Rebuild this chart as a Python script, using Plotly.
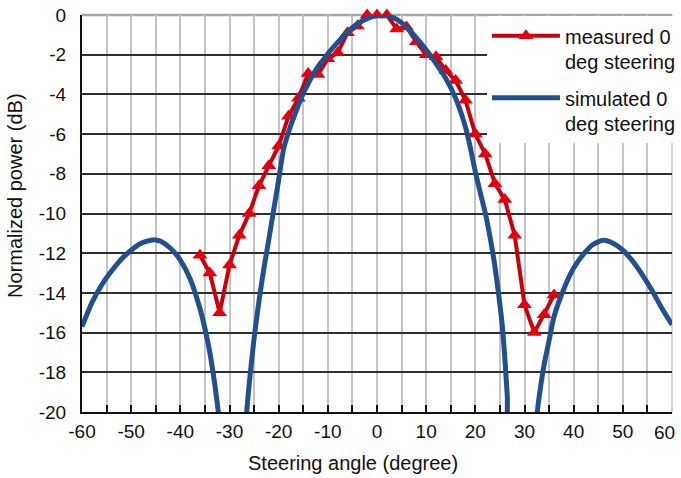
import plotly.graph_objects as go

# Simulated array pattern
sim_angle = [-60, -58, -56, -54, -52, -50, -48, -46, -45, -44, -42, -40, -38, -36, -35, -34, -33, -32, -31.5,
             -27, -26.5, -26, -25, -24, -23, -22, -21, -20, -19, -18, -17, -16, -15, -14, -13, -12, -11, -10,
             -8, -6, -4, -2, 0, 1, 2, 4, 6, 8, 10, 12, 14, 16, 18, 19, 20, 21, 22, 23, 24, 25, 25.5, 26, 26.5, 27,
             32.2, 32.6, 33, 34, 35, 36, 38, 40, 42, 44, 46, 48, 50, 52, 54, 56, 58, 60]
sim_db = [-15.7, -14.5, -13.6, -12.9, -12.3, -11.85, -11.5, -11.35, -11.33, -11.4, -11.75, -12.35, -13.3, -14.8, -15.8, -17.0, -18.6, -20.6, -22.0,
          -21.8, -20.0, -18.6, -16.3, -14.4, -12.75, -11.3, -9.8, -8.3, -6.75, -5.9, -5.2, -4.55, -3.95, -3.45, -3.0, -2.6, -2.28, -1.95,
          -1.38, -0.85, -0.45, -0.18, -0.03, 0.0, -0.03, -0.22, -0.6, -1.15, -1.75, -2.45, -3.2, -4.2, -5.65, -6.7, -7.9, -8.95, -9.95, -11.2, -12.7, -14.6, -15.7, -17.3, -19.2, -21.5,
          -21.0, -20.0, -19.2, -17.6, -16.4, -15.2, -13.8, -12.75, -12.05, -11.55, -11.35, -11.5, -11.85, -12.4, -13.1, -13.9, -14.8, -15.6]

# Measured pattern
meas_angle = [-36, -34, -32, -30, -28, -26, -24, -22, -20, -18, -16, -14, -12, -10, -8, -6, -4, -2, 0,
              2, 4, 6, 8, 10, 12, 14, 16, 18, 20, 22, 24, 26, 28, 30, 32, 34, 36]
meas_db = [-12.1, -13.0, -15.0, -12.6, -11.1, -10.0, -8.6, -7.6, -6.6, -5.1, -4.2, -2.95, -3.0, -2.2, -1.9, -0.9, -0.55, 0.0, 0.0,
           0.0, -0.7, -0.6, -1.35, -2.0, -2.1, -2.8, -3.3, -4.3, -6.0, -7.0, -8.5, -9.3, -11.1, -14.6, -16.0, -15.1, -14.1]

x_ticks = [-60, -50, -40, -30, -20, -10, 0, 10, 20, 30, 40, 50, 60]
x_labels = ["-60", "-50", "-40", "-30", "-20", "-10", "0", "10", "20", "30", "40", "50", ""]
x_last_label = "60"
y_ticks = [0, -2, -4, -6, -8, -10, -12, -14, -16, -18, -20]
y_labels = ["0", "-2", "-4", "-6", "-8", "-10", "-12", "-14", "-16", "-18", "-20"]

FONT = "Liberation Sans, Arial, sans-serif"

fig = go.Figure()
fig.add_trace(go.Scatter(
    x=meas_angle, y=meas_db, mode="lines+markers",
    name="measured 0<br>deg steering", legendgroup="m",
    line=dict(color="#c8000c", width=4),
    marker=dict(symbol="triangle-up", size=13, color="#e3000f"),
    cliponaxis=False,
))
fig.add_trace(go.Scatter(
    x=sim_angle, y=sim_db, mode="lines",
    name="simulated 0<br>deg steering", legendgroup="s",
    line=dict(color="#22508e", width=5, shape="spline", smoothing=0.6),
))

fig.update_layout(
    width=681, height=478,
    margin=dict(l=82, r=9, t=15, b=66, autoexpand=False),
    paper_bgcolor="white", plot_bgcolor="white",
    font=dict(family=FONT, size=19, color="#111111"),
    showlegend=True,
    legend=dict(
        x=0.6864, y=0.997, xanchor="left", yanchor="top",
        bgcolor="white", borderwidth=0,
        font=dict(family=FONT, size=20, color="#111111"),
        valign="top", itemwidth=68, traceorder="grouped", tracegroupgap=7,
    ),
    xaxis=dict(
        range=[-60, 60], tickvals=x_ticks, ticktext=x_labels,
        showgrid=True, gridcolor="#c4c4c4", gridwidth=1.5,
        ticks="inside", ticklen=7, tickwidth=1.5, tickcolor="#111111",
        showline=True, linecolor="#111111", linewidth=2,
        zeroline=False,
        minor=dict(dtick=5, tick0=-60, ticks="inside", ticklen=7, tickwidth=1.5, tickcolor="#111111",
                   showgrid=True, gridcolor="#c4c4c4", gridwidth=1.5),
        tickfont=dict(size=19),
        ticklabelstandoff=1,
    ),
    yaxis=dict(
        range=[-20, 0], tickvals=y_ticks, ticktext=y_labels,
        showgrid=True, gridcolor="#2e2e2e", gridwidth=1.5,
        showline=True, linecolor="#111111", linewidth=2,
        zeroline=False, ticks="",
        tickfont=dict(size=19),
        ticklabelstandoff=10,
    ),
    shapes=[
        dict(type="line", xref="paper", yref="paper", x0=0, x1=1, y0=1, y1=1,
             line=dict(color="#a6a6a6", width=2.5), layer="below"),
        dict(type="line", xref="paper", yref="paper", x0=1, x1=1, y0=0, y1=1,
             line=dict(color="#c4c4c4", width=1.5), layer="below"),
    ],
    annotations=[
        dict(text=x_last_label, xref="x", yref="paper", x=x_ticks[-1], y=-0.0504,
             xanchor="center", yanchor="middle", xshift=-8, showarrow=False,
             font=dict(family=FONT, size=19, color="#111111")),
        dict(text="Steering angle (degree)", xref="paper", yref="paper", x=0.4593, y=-0.128,
             xanchor="center", yanchor="middle", showarrow=False,
             font=dict(family=FONT, size=20, color="#111111")),
        dict(text="Normalized power (dB)", xref="paper", yref="paper", x=-0.1136, y=0.5466,
             xanchor="center", yanchor="middle", showarrow=False, textangle=-90,
             font=dict(family=FONT, size=20, color="#111111")),
    ],
)

fig.write_html("out.html")
